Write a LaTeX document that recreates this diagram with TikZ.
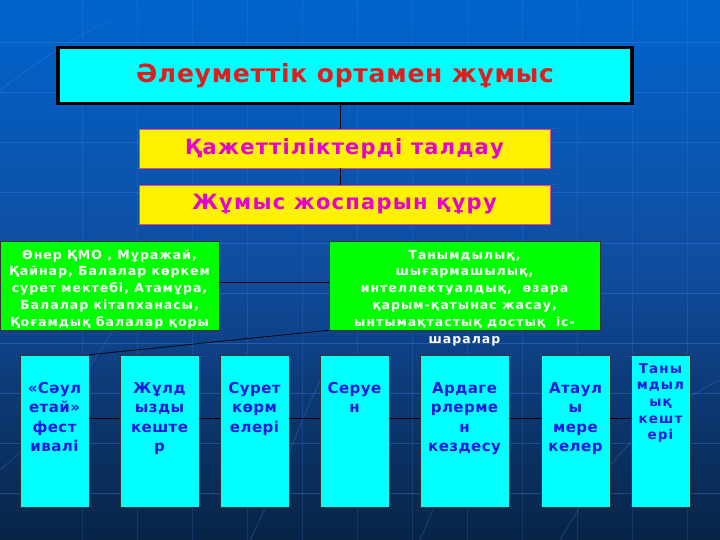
\documentclass[tikz,border=0pt]{standalone}
\usepackage{fontspec}
\setmainfont{DejaVu Sans}
\definecolor{bgtop}{RGB}{0,100,205}
\definecolor{bgmid}{RGB}{16,76,158}
\definecolor{bgbot}{RGB}{8,36,70}
\definecolor{titlered}{RGB}{225,30,30}
\definecolor{mag}{RGB}{230,0,210}
\definecolor{magborder}{RGB}{230,70,150}
\definecolor{boxblue}{RGB}{25,25,225}
\definecolor{gridline}{RGB}{70,140,235}
\definecolor{greenbox}{RGB}{0,255,0}
\definecolor{cyanfill}{RGB}{0,255,255}
\begin{document}
\begin{tikzpicture}[x=1pt,y=-1pt,
  titlebox/.style={draw=black, line width=3.5pt, fill=cyanfill, minimum width=574pt, minimum height=56pt, inner sep=0pt,
    font=\bfseries\fontsize{25}{28}\selectfont\addfontfeature{LetterSpace=3}, text=titlered},
  yellowbox/.style={draw=magborder, line width=0.8pt, fill=yellow, minimum width=411pt, minimum height=39pt, inner sep=0pt,
    font=\bfseries\fontsize{21}{24}\selectfont\addfontfeature{LetterSpace=6}, text=mag},
  greenbox/.style={draw=black!80, line width=0.6pt, fill=greenbox, inner sep=0pt, text=white,
    font=\bfseries\fontsize{12.5}{16.8}\selectfont\addfontfeature{LetterSpace=8}},
  cyanbox/.style={draw=black!80, line width=0.6pt, fill=cyanfill, inner sep=0pt, text=boxblue,
    font=\bfseries\fontsize{15}{19.5}\selectfont\addfontfeature{LetterSpace=3}},
  conn/.style={draw=black, line width=0.7pt},
  bgline/.style={draw=gridline, line width=1pt, opacity=0.35}
]
\useasboundingbox (0,0) rectangle (720,540);
% background
\shade[top color=bgtop, bottom color=bgbot, middle color=bgmid] (0,0) rectangle (720,540);
\foreach \yy in {43,93,143,193,243,293,343,393,443,493}
  \path[bgline] (0,\yy) -- (720,\yy);
\foreach \xx in {82,137,192,247,302,357,412,467,522,577,632,687}
  \path[bgline,opacity=0.2] (\xx,0) -- (\xx,540);
\path[bgline,opacity=0.25] (0,470) .. controls (60,420) and (120,330) .. (160,240);
\path[bgline,opacity=0.25] (250,540) .. controls (280,480) and (300,420) .. (330,360);
\path[bgline,opacity=0.25] (560,540) .. controls (600,470) and (640,420) .. (720,380);
\path[bgline,opacity=0.25] (420,540) .. controls (450,470) and (470,420) .. (500,370);
\path[bgline,opacity=0.25] (0,90) .. controls (40,60) and (70,40) .. (110,20);

% nodes
\node[titlebox] (title) at (345,75.5) {Әлеуметтік ортамен жұмыс};
\node[yellowbox] (need) at (344.5,148.5) {Қажеттіліктерді талдау};
\node[yellowbox] (plan) at (344.5,204.5) {Жұмыс жоспарын құру};

\node[greenbox] (gl) at (109.5,285.5) {\parbox[c][89pt][t]{219pt}{\centering\rule{0pt}{18pt}Өнер ҚМО , Мұражай,\\Қайнар, Балалар көркем\\сурет мектебі, Атамұра,\\Балалар кітапханасы,\\Қоғамдық балалар қоры\par}};
\node[greenbox] (gr) at (464.5,285.5) {\parbox[c][89pt][t]{271pt}{\centering\rule{0pt}{18pt}Танымдылық,\\шығармашылық,\\интеллектуалдық,~ өзара\\қарым-қатынас жасау,\\ынтымақтастық достық~ іс-\\шаралар\par\vss}};

\node[cyanbox] (c1) at (54.5,431) {\parbox[c][152pt][t]{69pt}{\centering\rule{0pt}{38pt}«Сәул\\етай»\\фест\\ивалі\par}};
\node[cyanbox] (c2) at (159.5,431) {\parbox[c][152pt][t]{79pt}{\centering\rule{0pt}{38pt}Жұлд\\ызды\\кеште\\р\par}};
\node[cyanbox] (c3) at (254.5,431) {\parbox[c][152pt][t]{69pt}{\centering\rule{0pt}{38pt}Сурет\\көрм\\елері\par}};
\node[cyanbox] (c4) at (354.5,431) {\parbox[c][152pt][t]{69pt}{\centering\rule{0pt}{38pt}Серуе\\н\par}};
\node[cyanbox] (c5) at (464.5,431) {\parbox[c][152pt][t]{89pt}{\centering\rule{0pt}{38pt}Ардаге\\рлерме\\н\\кездесу\par}};
\node[cyanbox] (c6) at (575.5,431) {\parbox[c][152pt][t]{69pt}{\centering\rule{0pt}{38pt}Атаул\\ы\\мере\\келер\par}};
\node[cyanbox,font=\bfseries\fontsize{13.5}{16.7}\selectfont\addfontfeature{LetterSpace=8}] (c7) at (660.5,431) {\parbox[c][152pt][t]{59pt}{\centering\rule{0pt}{18pt}Таны\\мдыл\\ық\\кешт\\ері\par}};

% connectors
\coordinate (vx) at (340,0);
\draw[conn] (vx |- title.south) -- (vx |- need.north);
\draw[conn] (vx |- need.south) -- (vx |- plan.north);
\draw[conn] ([yshift=3.5pt]gl.east) -- ([yshift=3.5pt]gr.west);
\draw[conn] (gr.south west) -- (c1.north east);
\foreach \a/\b in {c1/c2,c2/c3,c3/c4,c4/c5,c5/c6,c6/c7}
  \draw[conn] ([yshift=13pt]\a.east) -- ([yshift=13pt]\b.west);
\end{tikzpicture}
\end{document}
